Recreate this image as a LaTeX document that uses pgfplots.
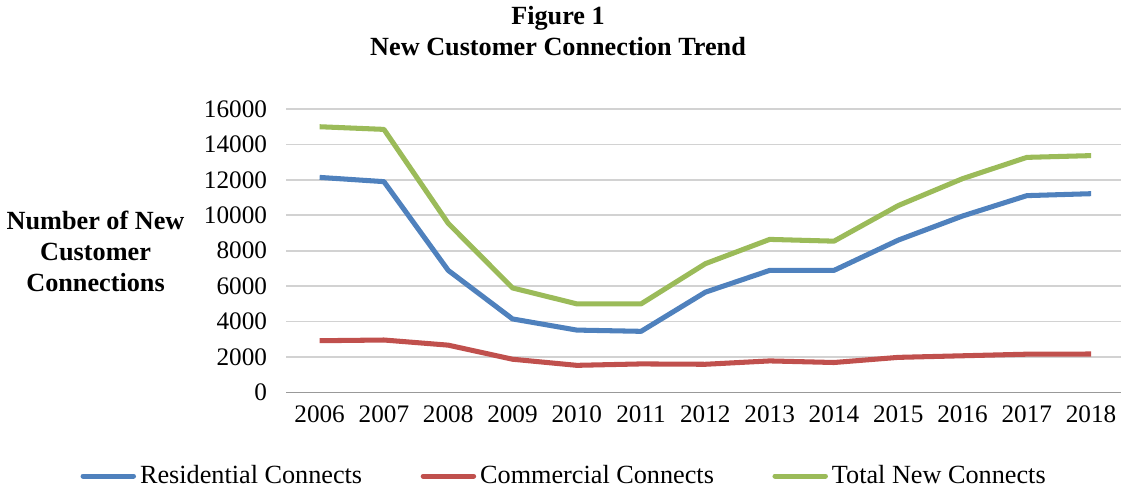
\documentclass[border=0pt]{standalone}
\usepackage{fontspec}
\setmainfont{Liberation Serif}
\usepackage{pgfplots}
\pgfplotsset{compat=1.18}
\definecolor{resblue}{HTML}{4F81BD}
\definecolor{comred}{HTML}{C0504D}
\definecolor{totgreen}{HTML}{9BBB59}
\begin{document}
\begin{tikzpicture}
\begin{axis}[
  scale only axis, width=414pt, height=140.5pt,
  xmin=2005.48, xmax=2018.47, ymin=0, ymax=16000,
  xtick={2006,2007,...,2018}, ytick={0,2000,...,16000},
  /pgf/number format/assume math mode=true,
  /pgf/number format/1000 sep={},
  scaled y ticks=false,
  tick label style={font=\fontsize{12.5}{14}\selectfont},
  major tick length=0pt,
  yticklabel style={xshift=-6pt},
  xticklabel style={yshift=-3pt},
  ymajorgrids, grid style={gray!35, line width=0.8pt},
  axis x line*=bottom, axis y line*=left,
  x axis line style={gray!80, line width=0.8pt, -},
  y axis line style={draw=none},
  clip=false,
  legend style={at={(0.334,-0.295)}, anchor=center, draw=none, fill=none,
    legend columns=3, font=\fontsize{13}{15}\selectfont,
    /tikz/every even column/.append style={column sep=27pt},
    inner sep=0pt, row sep=0pt},
  legend cell align=left,
  legend image code/.code={\draw[#1, line width=2.5pt, line cap=round] (0pt,0pt) -- (25pt,0pt);},
  every axis plot/.append style={line width=2.5pt, line join=round, mark=none},
]
\addplot[resblue] coordinates {(2006,12140) (2007,11900) (2008,6890) (2009,4150) (2010,3520) (2011,3450) (2012,5660) (2013,6890) (2014,6890) (2015,8600) (2016,9960) (2017,11110) (2018,11220)};
\addlegendentry{Residential Connects}
\addplot[comred] coordinates {(2006,2920) (2007,2960) (2008,2670) (2009,1875) (2010,1530) (2011,1610) (2012,1590) (2013,1780) (2014,1690) (2015,1980) (2016,2070) (2017,2160) (2018,2170)};
\addlegendentry{Commercial Connects}
\addplot[totgreen] coordinates {(2006,15000) (2007,14850) (2008,9545) (2009,5900) (2010,5000) (2011,5000) (2012,7270) (2013,8640) (2014,8540) (2015,10550) (2016,12070) (2017,13270) (2018,13370)};
\addlegendentry{Total New Connects}
\node[font=\bfseries\fontsize{13}{15.5}\selectfont, align=center] at (rel axis cs:0,0.498) [xshift=-94.5pt] {Number of New\\Customer\\Connections};
\node[font=\bfseries\fontsize{13}{15}\selectfont, align=center, anchor=south] at (rel axis cs:0,1) [xshift=134.75pt, yshift=23pt] {Figure 1\\New Customer Connection Trend};
\end{axis}
\end{tikzpicture}
\end{document}
